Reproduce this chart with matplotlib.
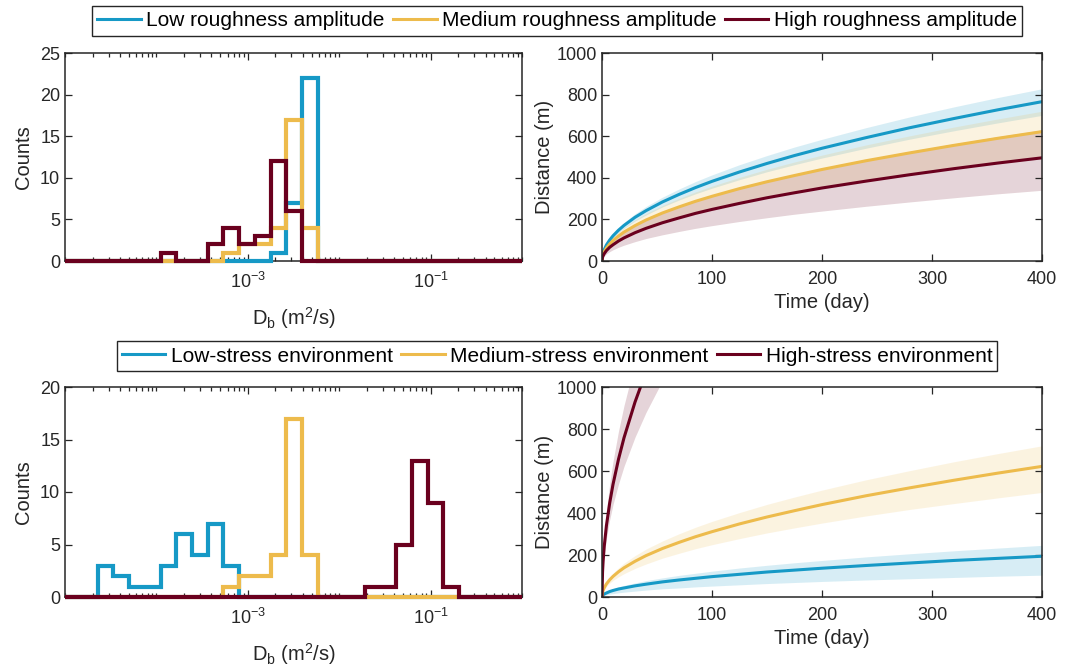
import matplotlib.pyplot as plt
import numpy as np
from matplotlib.lines import Line2D
from matplotlib.ticker import FixedLocator, LogLocator, NullFormatter, LogFormatterSciNotation

plt.rcParams['font.family'] = ['Liberation Sans', 'DejaVu Sans']
plt.rcParams['mathtext.fontset'] = 'custom'
plt.rcParams['mathtext.rm'] = 'Liberation Sans'
plt.rcParams['mathtext.it'] = 'Liberation Sans:italic'
plt.rcParams['mathtext.bf'] = 'Liberation Sans:bold'
plt.rcParams['axes.unicode_minus'] = False

c_low = '#1699C6'
c_med = '#EDBB4C'
c_high = '#6A001E'
c_axis = '#262626'

# histogram bin edges as log10(Db); first/last bins pad out to the axis limits
bin_exp = [-5.0, -4.643, -4.471, -4.299, -4.127, -3.955, -3.783, -3.611, -3.439,
           -3.267, -3.095, -2.923, -2.751, -2.579, -2.407, -2.235, -2.063, -1.891,
           -1.719, -1.547, -1.375, -1.203, -1.031, -0.859, -0.687, 0.0]

# counts, roughness case (top)
cnt_rough_low = [0, 0, 0, 0, 0, 0, 0, 0, 0, 0, 0, 0, 1, 7, 22, 0, 0, 0, 0, 0, 0, 0, 0, 0, 0]
cnt_rough_med = [0, 0, 0, 0, 0, 0, 0, 0, 0, 1, 2, 2, 4, 17, 4, 0, 0, 0, 0, 0, 0, 0, 0, 0, 0]
cnt_rough_high = [0, 0, 0, 0, 0, 1, 0, 0, 2, 4, 2, 3, 12, 6, 0, 0, 0, 0, 0, 0, 0, 0, 0, 0, 0]
# counts, stress case (bottom)
cnt_stress_low = [0, 3, 2, 1, 1, 3, 6, 4, 7, 3, 0, 0, 0, 0, 0, 0, 0, 0, 0, 0, 0, 0, 0, 0, 0]
cnt_stress_med = [0, 0, 0, 0, 0, 0, 0, 0, 0, 1, 2, 2, 4, 17, 4, 0, 0, 0, 0, 0, 0, 0, 0, 0, 0]
cnt_stress_high = [0, 0, 0, 0, 0, 0, 0, 0, 0, 0, 0, 0, 0, 0, 0, 0, 0, 0, 1, 1, 5, 13, 9, 1, 0]

# distance vs time
t_days = [0, 0.5, 1, 2, 4, 7, 10, 15, 20, 30, 40, 55, 70, 85, 100, 125, 150, 175, 200,
          240, 280, 320, 360, 400]

rough_low = [0, 27, 38, 54, 77, 101, 121, 148, 171, 210, 242, 284, 320, 353, 383, 428, 469, 507, 542, 593, 641, 685, 727, 766]
rough_low_hi = [0, 29, 41, 59, 83, 110, 131, 160, 185, 227, 262, 307, 346, 382, 414, 463, 507, 548, 585, 641, 693, 741, 786, 828]
rough_low_lo = [0, 25, 35, 49, 70, 93, 111, 136, 157, 192, 221, 260, 293, 323, 350, 391, 429, 463, 495, 542, 586, 626, 664, 700]

med = [0, 22, 31, 44, 62, 82, 98, 120, 139, 170, 197, 231, 260, 287, 311, 348, 381, 411, 440, 482, 520, 556, 590, 622]
med_hi = [0, 25, 36, 51, 72, 95, 114, 139, 161, 197, 228, 267, 301, 332, 360, 402, 441, 476, 509, 558, 602, 644, 683, 720]
med_lo = [0, 18, 25, 35, 50, 66, 79, 96, 111, 136, 157, 185, 208, 230, 249, 278, 305, 329, 352, 386, 417, 445, 472, 498]

rough_high = [0, 18, 25, 35, 50, 66, 78, 96, 111, 136, 157, 184, 207, 229, 248, 277, 304, 328, 351, 384, 415, 444, 471, 496]
rough_high_hi = [0, 22, 32, 45, 63, 83, 100, 122, 141, 173, 199, 234, 264, 290, 315, 352, 386, 417, 445, 488, 527, 563, 598, 630]
rough_high_lo = [0, 12, 17, 24, 34, 45, 54, 66, 76, 93, 108, 126, 142, 157, 170, 190, 208, 225, 240, 263, 284, 304, 323, 340]

stress_low = [0, 7, 10, 14, 19, 26, 31, 38, 43, 53, 61, 72, 81, 89, 97, 108, 119, 128, 137, 150, 162, 174, 184, 194]
stress_low_hi = [0, 9, 12, 17, 25, 33, 39, 48, 55, 67, 78, 91, 103, 113, 123, 138, 151, 163, 174, 191, 206, 220, 233, 246]
stress_low_lo = [0, 4, 5, 7, 10, 14, 16, 20, 23, 28, 33, 39, 43, 48, 52, 58, 64, 69, 74, 81, 87, 93, 99, 104]

stress_high = [0, 120, 170, 240, 339, 448, 536, 656, 758, 928, 1072, 1257, 1418]
stress_high_hi = [0, 144, 204, 288, 408, 540, 645, 790, 912, 1117, 1290, 1513, 1707]
stress_high_lo = [0, 98, 139, 197, 278, 368, 440, 538, 622, 761, 879, 1031, 1163]

labels_rough = ['Low roughness amplitude', 'Medium roughness amplitude', 'High roughness amplitude']
labels_stress = ['Low-stress environment', 'Medium-stress environment', 'High-stress environment']

W, H = 1089, 671
fig = plt.figure(figsize=(W / 100, H / 100), dpi=100)

def box(l, t, r, b):
    return [l / W, 1 - b / H, (r - l) / W, (b - t) / H]

ax_h1 = fig.add_axes(box(65, 53, 522, 261))
ax_d1 = fig.add_axes(box(602, 53, 1042, 261))
ax_h2 = fig.add_axes(box(65, 387, 522, 597))
ax_d2 = fig.add_axes(box(602, 387, 1042, 597))

edges = 10 ** np.array(bin_exp)


def style(ax):
    for s in ax.spines.values():
        s.set_color(c_axis)
        s.set_linewidth(1.1)
    ax.tick_params(which='both', direction='in', top=True, right=True,
                   colors=c_axis, labelsize=13, width=0.9)
    ax.tick_params(which='major', length=5)
    ax.tick_params(which='minor', length=3)


def hist_panel(ax, counts, ymax):
    for cnt, col in zip(counts, [c_low, c_med, c_high]):
        ax.stairs(cnt, edges, color=col, lw=3.0, zorder=3, clip_on=False)
    ax.set_xscale('log')
    ax.set_xlim(1e-5, 1)
    ax.set_ylim(0, ymax)
    ax.set_yticks(np.arange(0, ymax + 1, 5))
    ax.xaxis.set_major_locator(FixedLocator([1e-3, 1e-1]))
    ax.xaxis.set_major_formatter(LogFormatterSciNotation())
    ax.xaxis.set_minor_locator(LogLocator(base=10, subs=np.arange(1, 10), numticks=50))
    ax.xaxis.set_minor_formatter(NullFormatter())
    style(ax)
    ax.tick_params(axis='x', pad=8)
    ax.set_ylabel('Counts', fontsize=14.5, color=c_axis, labelpad=5)
    ax.set_xlabel(r'D$_\mathrm{b}$ (m$^2$/s)', fontsize=14.5, color=c_axis, labelpad=9)


def dist_panel(ax, curves):
    for (t, y, lo, hi), col in zip(curves, [c_low, c_med, c_high]):
        ax.fill_between(t, lo, hi, color=col, alpha=0.17, lw=0)
    for (t, y, lo, hi), col in zip(curves, [c_low, c_med, c_high]):
        ax.plot(t, y, color=col, lw=2.2)
    ax.set_xlim(0, 400)
    ax.set_ylim(0, 1000)
    ax.set_xticks(np.arange(0, 401, 100))
    ax.set_yticks(np.arange(0, 1001, 200))
    style(ax)
    ax.tick_params(axis='x', pad=7)
    ax.set_ylabel('Distance (m)', fontsize=14.5, color=c_axis, labelpad=2)
    ax.set_xlabel('Time (day)', fontsize=14.5, color=c_axis, labelpad=4)


hist_panel(ax_h1, [cnt_rough_low, cnt_rough_med, cnt_rough_high], 25)
hist_panel(ax_h2, [cnt_stress_low, cnt_stress_med, cnt_stress_high], 20)

dist_panel(ax_d1, [(t_days, rough_low, rough_low_lo, rough_low_hi),
                   (t_days, med, med_lo, med_hi),
                   (t_days, rough_high, rough_high_lo, rough_high_hi)])
t_short = t_days[:len(stress_high)]
dist_panel(ax_d2, [(t_days, stress_low, stress_low_lo, stress_low_hi),
                   (t_days, med, med_lo, med_hi),
                   (t_short, stress_high, stress_high_lo, stress_high_hi)])

handles = [Line2D([], [], color=c, lw=2.2) for c in [c_low, c_med, c_high]]


def legend(labels, y):
    leg = fig.legend(handles, labels, loc='center', bbox_to_anchor=(557 / W, 1 - y / H),
                     ncol=3, fontsize=15, frameon=True, fancybox=False, framealpha=1,
                     edgecolor=c_axis, borderpad=0.25, handlelength=2.1,
                     handletextpad=0.25, columnspacing=0.4, borderaxespad=0)
    leg.get_frame().set_linewidth(1.0)


legend(labels_rough, 21)
legend(labels_stress, 356)

fig.savefig('out.png', dpi=100, facecolor='white')
